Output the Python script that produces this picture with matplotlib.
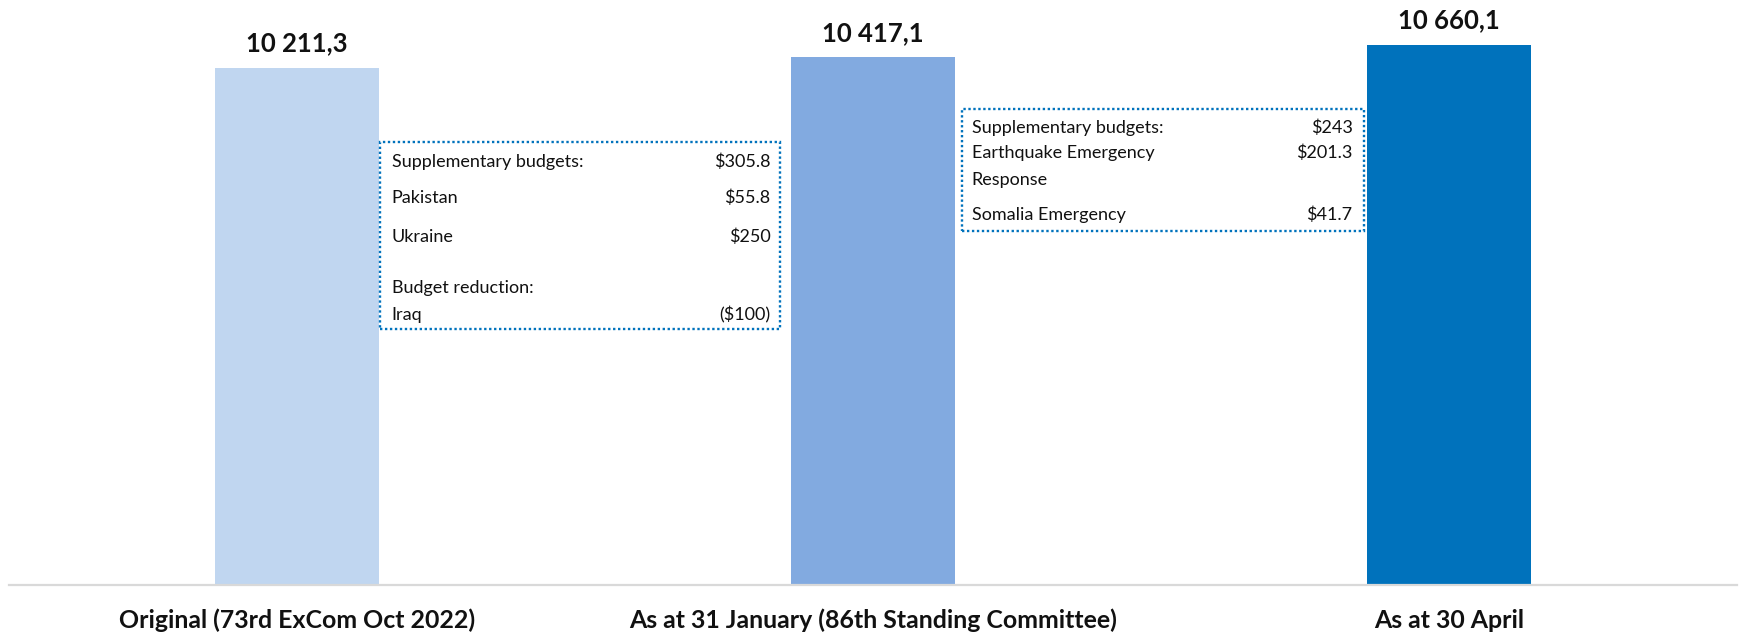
import matplotlib
matplotlib.use("Agg")
import matplotlib.pyplot as plt
from matplotlib.patches import Rectangle

# ---- data ----
categories = ["Original (73rd ExCom Oct 2022)",
              "As at 31 January (86th Standing Committee)",
              "As at 30 April"]
totals = [10211.3, 10417.1, 10660.1]
total_labels = ["10 211,3", "10 417,1", "10 660,1"]
bar_colors = ["#C0D6F0", "#82AAE0", "#0072BC"]

box1_labels = ["Supplementary budgets:", "Pakistan", "Ukraine", "Budget reduction:", "Iraq"]
box1_values = ["$305.8", "$55.8", "$250", "", "($100)"]
box2_labels = ["Supplementary budgets:", "Earthquake Emergency", "Response", "Somalia Emergency"]
box2_values = ["$243", "$201.3", "", "$41.7"]

plt.rcParams['font.family'] = ['Lato', 'DejaVu Sans']

W, H = 1742, 639
fig = plt.figure(figsize=(W / 100, H / 100), dpi=100)
base_px = 585
ax = fig.add_axes([9 / W, (H - base_px) / H, (1737 - 9) / W, base_px / H])
px_per_unit = 540 / 10660.1
ax.set_xlim(-0.5, 2.5)
ax.set_ylim(0, base_px / px_per_unit)

x = list(range(len(categories)))
ax.bar(x, totals, width=0.283, color=bar_colors, zorder=2)

for xi, v, lab in zip(x, totals, total_labels):
    ax.annotate(lab, (xi, v), xytext=(0, 12), textcoords="offset points",
                ha="center", va="baseline", fontsize=18.5, fontweight="bold", color="#111111")

for s in ["top", "right", "left"]:
    ax.spines[s].set_visible(False)
ax.spines["bottom"].set_color("#D9D9D9")
ax.spines["bottom"].set_linewidth(1.6)
ax.set_yticks([])
ax.set_xticks(x)
ax.set_xticklabels(categories, fontsize=17.9, fontweight="bold", color="#111111")
ax.tick_params(axis="x", length=0, pad=17)


def px2x(px):
    return (px - 297.5) / 576


def py2y(py):
    return (base_px - py) / px_per_unit


def draw_box(l, r, t, b, labels, values, rows, left_px, right_px):
    rect = Rectangle((px2x(l), py2y(b)), px2x(r) - px2x(l), py2y(t) - py2y(b),
                     fill=False, edgecolor="#0072BC", linewidth=1.7,
                     linestyle=(0, (1, 1.1)), zorder=3)
    ax.add_patch(rect)
    for lab, val, ry in zip(labels, values, rows):
        ax.text(px2x(left_px), py2y(ry), lab, ha="left", va="center",
                fontsize=13, color="#111111")
        if val:
            ax.text(px2x(right_px), py2y(ry), val, ha="right", va="center",
                    fontsize=13, color="#111111")


draw_box(380, 780, 142, 329, box1_labels, box1_values,
         [162, 198, 237, 288, 315], 392, 771)
draw_box(962, 1364, 109, 231, box2_labels, box2_values,
         [128, 153, 180, 215], 972, 1353)

fig.savefig("out.png", dpi=100)
